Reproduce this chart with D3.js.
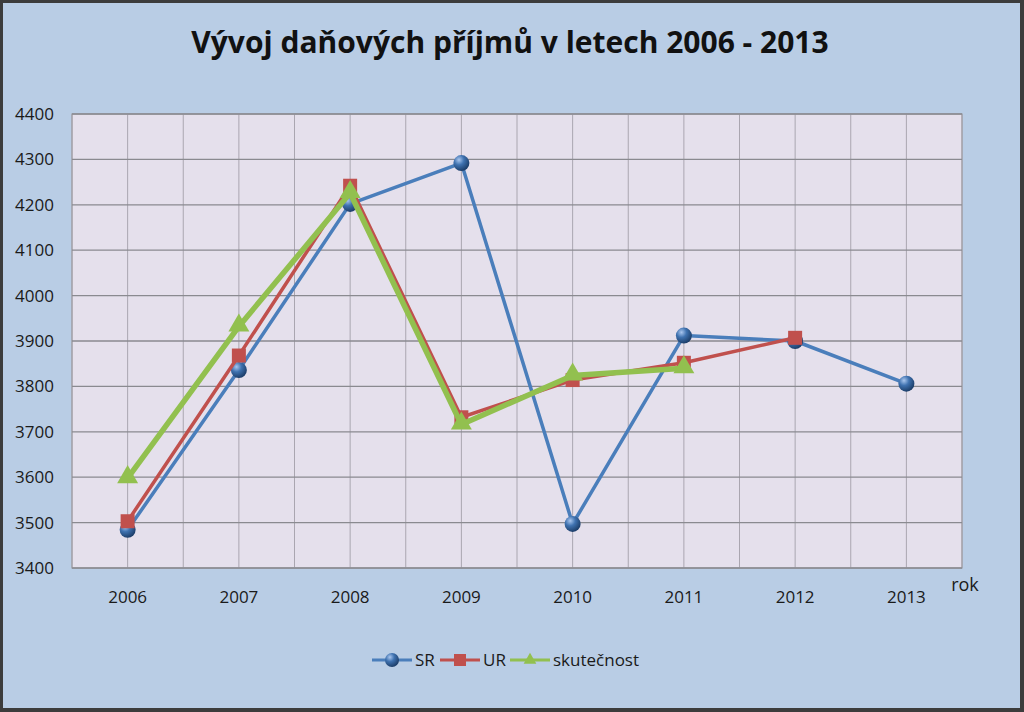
<!DOCTYPE html>
<html lang="cs">
<head>
<meta charset="UTF-8">
<title>Vývoj daňových příjmů</title>
<script src="https://d3js.org/d3.v7.min.js"></script>
<style>
  body { margin: 0; background: #ffffff; }
  svg { display: block; font-family: "Open Sans", "Lato", sans-serif; }
</style>
</head>
<body>
<div id="chart"></div>
<script>
const years = ["2006", "2007", "2008", "2009", "2010", "2011", "2012", "2013"];
const sr = [3484, 3836, 4202, 4292, 3497, 3912, 3900, 3806];
const ur = [3503, 3868, 4242, 3732, 3814, 3852, 3907];
const skutecnost = [3598, 3932, 4226, 3716, 3824, 3840];
const yTicks = [3400, 3500, 3600, 3700, 3800, 3900, 4000, 4100, 4200, 4300, 4400];

const width = 1024, height = 712;
const margin = { top: 114, right: 62, bottom: 144, left: 72 };

const svg = d3.select("#chart").append("svg")
  .attr("width", width).attr("height", height);

const defs = svg.append("defs");
const grad = defs.append("radialGradient").attr("id", "ball")
  .attr("cx", "35%").attr("cy", "30%").attr("r", "70%");
grad.append("stop").attr("offset", "0%").attr("stop-color", "#a9c6ee");
grad.append("stop").attr("offset", "45%").attr("stop-color", "#3f72b0");
grad.append("stop").attr("offset", "100%").attr("stop-color", "#1d3f6b");

// background + frame
svg.append("rect").attr("x", 0).attr("y", 0).attr("width", width).attr("height", height)
  .attr("fill", "#3c3c3c");
svg.append("rect").attr("x", 3).attr("y", 3).attr("width", width - 7).attr("height", height - 7)
  .attr("fill", "#b9cde5");

const x = d3.scaleBand().domain(years)
  .range([margin.left, width - margin.right]);
const y = d3.scaleLinear().domain([3400, 4400])
  .range([height - margin.bottom, margin.top]);

// plot area
svg.append("rect")
  .attr("x", margin.left).attr("y", margin.top)
  .attr("width", width - margin.left - margin.right)
  .attr("height", height - margin.top - margin.bottom)
  .attr("fill", "#e5e0ec").attr("stroke", "#8c8c8c");

// vertical gridlines at category edges and centres
const vLines = [];
years.forEach(yr => {
  vLines.push(x(yr));
  vLines.push(x(yr) + x.bandwidth() / 2);
});
vLines.push(width - margin.right);
svg.append("g").selectAll("line").data(vLines).join("line")
  .attr("x1", d => d).attr("x2", d => d)
  .attr("y1", margin.top).attr("y2", height - margin.bottom)
  .attr("stroke", "#aaa6b0").attr("stroke-width", 1);

// horizontal gridlines
svg.append("g").selectAll("line").data(yTicks).join("line")
  .attr("x1", margin.left).attr("x2", width - margin.right)
  .attr("y1", d => y(d)).attr("y2", d => y(d))
  .attr("stroke", "#8a8a90").attr("stroke-width", 1.3);

// y axis labels
const yAxis = svg.append("g")
  .attr("transform", `translate(${margin.left},0)`)
  .call(d3.axisLeft(y).tickValues(yTicks).tickSize(0).tickPadding(18).tickFormat(d3.format("d")));
yAxis.select(".domain").remove();
yAxis.selectAll("text").attr("font-size", 17).attr("fill", "#1a1a1a")
  .attr("font-family", "Open Sans, sans-serif");

// x axis labels
const xAxis = svg.append("g")
  .attr("transform", `translate(0,${height - margin.bottom})`)
  .call(d3.axisBottom(x).tickSize(0).tickPadding(23));
xAxis.select(".domain").remove();
xAxis.selectAll("text").attr("font-size", 17).attr("fill", "#1a1a1a")
  .attr("font-family", "Open Sans, sans-serif");

svg.append("text").attr("x", 965).attr("y", 591)
  .attr("text-anchor", "middle").attr("font-size", 18).attr("fill", "#1a1a1a")
  .text("rok");

// title
svg.append("text").attr("x", 510).attr("y", 53)
  .attr("text-anchor", "middle").attr("font-size", 30).attr("font-weight", "bold")
  .attr("fill", "#111").text("Vývoj daňových příjmů v letech 2006 - 2013");

const cx = (d, i) => x(years[i]) + x.bandwidth() / 2;
const line = d3.line().x((d, i) => cx(d, i)).y(d => y(d));

// SR
svg.append("path").datum(sr).attr("d", line)
  .attr("fill", "none").attr("stroke", "#4a7ebb").attr("stroke-width", 3.5)
  .attr("stroke-linejoin", "round");
svg.append("g").selectAll("circle").data(sr).join("circle")
  .attr("cx", cx).attr("cy", d => y(d)).attr("r", 8)
  .attr("fill", "url(#ball)");

// UR
svg.append("path").datum(ur).attr("d", line)
  .attr("fill", "none").attr("stroke", "#c0504d").attr("stroke-width", 3.5)
  .attr("stroke-linejoin", "round");
svg.append("g").selectAll("rect").data(ur).join("rect")
  .attr("x", (d, i) => cx(d, i) - 7).attr("y", d => y(d) - 7)
  .attr("width", 14).attr("height", 14).attr("fill", "#c0504d");

// skutečnost
const tri = d3.symbol().type(d3.symbolTriangle).size(190);
svg.append("path").datum(skutecnost).attr("d", line)
  .attr("fill", "none").attr("stroke", "#92c04f").attr("stroke-width", 5.5)
  .attr("stroke-linejoin", "round");
svg.append("g").selectAll("path").data(skutecnost).join("path")
  .attr("d", tri)
  .attr("transform", (d, i) => `translate(${cx(d, i)},${y(d) - 1})`)
  .attr("fill", "#92c04f");

// legend
const legend = svg.append("g").attr("transform", "translate(372,660)");
const items = [
  { name: "SR", color: "#4a7ebb", marker: "ball", x: 0 },
  { name: "UR", color: "#c0504d", marker: "square", x: 68 },
  { name: "skutečnost", color: "#92c04f", marker: "tri", x: 138 }
];
items.forEach(it => {
  const g = legend.append("g").attr("transform", `translate(${it.x},0)`);
  g.append("line").attr("x1", 0).attr("x2", 40).attr("y1", 0).attr("y2", 0)
    .attr("stroke", it.color).attr("stroke-width", 3);
  if (it.marker === "ball") {
    g.append("circle").attr("cx", 20).attr("cy", 0).attr("r", 7).attr("fill", "url(#ball)");
  } else if (it.marker === "square") {
    g.append("rect").attr("x", 14).attr("y", -6).attr("width", 12).attr("height", 12).attr("fill", it.color);
  } else {
    g.append("path").attr("d", d3.symbol().type(d3.symbolTriangle).size(70))
      .attr("transform", "translate(20,0)").attr("fill", it.color);
  }
  g.append("text").attr("x", 43).attr("y", 6).attr("font-size", 17)
    .attr("fill", "#1a1a1a").text(it.name);
});
</script>
</body>
</html>
